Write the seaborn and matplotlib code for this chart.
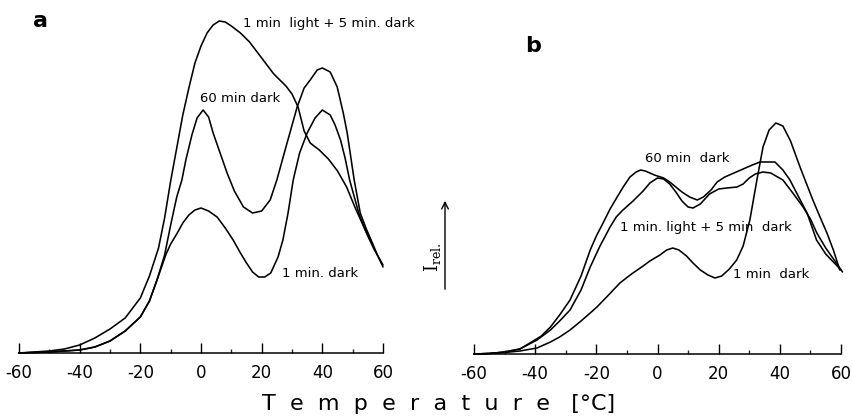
import matplotlib
matplotlib.use("Agg")
import matplotlib.pyplot as plt
import pandas as pd
import seaborn as sns

W, H = 852, 419

# panel a (relative intensity, arbitrary units)
a_light_t = [-60, -55, -50, -45, -40, -35, -30, -25, -20, -17, -14, -12, -10, -8, -6, -4, -2, 0, 2, 4, 6,
             8, 10, 13, 16, 20, 24, 28, 30, 32, 34, 36, 39, 42, 45, 48, 51, 54, 57, 60]
a_light_i = [0, 1, 2, 4, 8, 15, 24, 35, 55, 77, 105, 135, 172, 205, 238, 265, 290, 307, 320, 328, 332,
             331, 327, 320, 311, 295, 279, 267, 259, 246, 222, 210, 203, 194, 182, 166, 144, 124, 104, 88]

a_60_t = [-60, -55, -50, -45, -40, -35, -30, -25, -20, -17, -14.5, -12, -10, -8, -6.3, -5, -3, -1.3, 0.7,
          2.5, 4, 6.3, 8.6, 11, 14, 17, 20, 22.8, 25, 28, 31.7, 34, 36, 38.3, 40, 42.6, 44.9, 46.9, 48.2,
          50.5, 52.5, 54.5, 56.5, 58.3, 60]
a_60_i = [0, 0.5, 1, 2, 3, 6, 12, 22, 36, 52, 73, 98, 128, 156, 173, 193, 218, 235, 243,
          236, 220, 200, 180, 162, 146, 140, 142, 153, 173, 206, 246, 265, 273, 283, 285, 281, 266, 240, 220,
          173, 140, 124, 110, 97, 86]

a_1d_t = [-60, -55, -50, -45, -40, -35, -30, -25, -20, -17, -14.5, -13, -11.5, -10, -8, -6, -4, -2, 0, 2.5,
          5.3, 8, 10.6, 13, 15, 17, 19, 21, 23, 25.4, 27, 28.7, 30.4, 32.5, 35, 37.6, 40, 42.6, 44.2, 46,
          47.5, 49, 52, 54, 56]
a_1d_i = [0, 0.5, 1, 2, 3, 6, 12, 22, 36, 52, 73, 86, 99, 109, 119, 130, 138, 143, 145, 142,
          136, 125, 113, 100, 90, 81, 76, 76, 80, 96, 113, 140, 173, 200, 220, 235, 243, 238, 228, 213,
          195, 173, 140, 124, 111]

# panel b
b_60_t = [-60, -55, -50, -45, -41.7, -38, -35, -32, -28.6, -25, -22, -20, -17.8, -15.5, -13.2, -11, -9, -7,
          -5.5, -4, -2.5, -1, 0, 2, 4, 6, 8, 10.5, 13, 15, 17.5, 19.5, 22, 25, 28, 31, 33.5, 36, 38.4, 41,
          43.3, 46, 48.9, 52, 55, 57.5, 60]
b_60_i = [0, 0.5, 2, 5, 11, 18, 27, 39, 54, 78, 104, 118, 131, 145, 157, 168, 177, 182,
          184, 183, 181, 179, 178, 176, 172, 167, 162, 157, 154, 157, 164, 172, 177, 181, 185, 189, 192, 192, 192, 184,
          174, 158, 141, 114, 100, 92, 84]

b_light_t = [-60, -55, -50, -45, -39.4, -35, -32, -28.6, -25, -22, -18.8, -15.5, -13.5, -11.3, -8, -4.7, -2.5,
             0, 2, 4, 6, 8, 10, 11.6, 14, 17, 20, 22.7, 26, 28, 30, 32, 34.5, 37, 41, 44, 47.6, 50, 52.1,
             55, 58, 60.5]
b_light_i = [0, 0.5, 2, 5, 14, 24, 33, 44, 64, 87, 108, 127, 137, 144, 153, 163, 171,
             176, 175, 170, 162, 153, 147, 146, 150, 160, 165, 166, 167, 170, 176, 180, 182, 181, 174, 162, 147, 135, 121,
             106, 93, 82]

b_1d_t = [-60, -55, -50, -45, -39.4, -35, -32, -28.6, -25, -22, -19.8, -16, -12.3, -8.5, -4.7, -2.5, 0.8, 3,
          5, 7, 9.5, 11.6, 14, 16.5, 18.8, 21, 23.5, 25.9, 28, 30.2, 32.5, 34.5, 36.5, 38.7, 41, 43.5, 46.6,
          48.5, 50.8, 53, 55.4, 57.5, 59.6]
b_1d_i = [0, 0.5, 1.5, 3, 6, 12, 17, 24, 33, 41, 47, 59, 71, 80, 88, 93, 99, 104,
          106, 104, 98, 91, 84, 79, 76, 78, 85, 94, 108, 134, 174, 207, 224, 231, 228, 213, 187,
          172, 154, 138, 121, 104, 84]

ticks = [-60, -40, -20, 0, 20, 40, 60]
minor_ticks = [-50, -30, -10, 10, 30, 50]


def long_df(curves):
    parts = []
    for name, t, i in curves:
        parts.append(pd.DataFrame({"T": t, "I": i, "curve": name}))
    return pd.concat(parts, ignore_index=True)


df_a = long_df([("light", a_light_t, a_light_i), ("60", a_60_t, a_60_i), ("1d", a_1d_t, a_1d_i)])
df_b = long_df([("light", b_light_t, b_light_i), ("60", b_60_t, b_60_i), ("1d", b_1d_t, b_1d_i)])

sns.set_style("white")
plt.rcParams["font.family"] = ["DejaVu Sans"]
plt.rcParams["text.color"] = "black"

fig = plt.figure(figsize=(W / 100, H / 100), dpi=100)
ax_a = fig.add_axes([19 / W, 66 / H, 364 / W, 353 / H])
ax_b = fig.add_axes([474 / W, 65 / H, 367 / W, 354 / H])

for ax, df, top in [(ax_a, df_a, 353), (ax_b, df_b, 354)]:
    sns.lineplot(data=df, x="T", y="I", units="curve", estimator=None, color="black",
                 lw=1.15, ax=ax, clip_on=False, sort=False,
                 solid_joinstyle="round", solid_capstyle="round")
    ax.set_xlim(-60, 60)
    ax.set_ylim(0, top)
    ax.set_xticks(ticks)
    ax.set_xticks(minor_ticks, minor=True)
    ax.set_xticklabels([str(t) for t in ticks])
    ax.set_yticks([])
    ax.set_xlabel("")
    ax.set_ylabel("")
    for s in ["top", "left", "right"]:
        ax.spines[s].set_visible(False)
    ax.spines["bottom"].set_linewidth(1.1)
    ax.spines["bottom"].set_color("black")
    ax.tick_params(axis="x", which="major", direction="in", length=7, width=1, pad=8,
                   labelsize=12, colors="black", bottom=True)
    ax.tick_params(axis="x", which="minor", direction="in", length=3, width=1, bottom=True)
    ax.patch.set_alpha(0)

lbl = dict(fontsize=9.5, color="black", va="center", ha="left")
ax_a.text(13.9, 329, "1 min  light + 5 min. dark", clip_on=False, **lbl)
ax_a.text(-0.3, 255, "60 min dark", **lbl)
ax_a.text(26.7, 80, "1 min. dark", **lbl)
ax_b.text(-4.1, 196, "60 min  dark", **lbl)
ax_b.text(-12.3, 126, "1 min. light + 5 min  dark", **lbl)
ax_b.text(24.7, 79, "1 min  dark", **lbl)

fig.text(40 / W, 1 - 21 / H, "a", fontsize=16, fontweight="bold", ha="center", va="center")
fig.text(533 / W, 1 - 46 / H, "b", fontsize=16, fontweight="bold", ha="center", va="center")

fig.text(439 / W, 1 - 404 / H, "T  e  m  p  e  r  a  t  u  r  e   [°C]", fontsize=16,
         ha="center", va="center")

fig.patches.append(matplotlib.patches.FancyArrowPatch(
    (445 / W, 1 - 292 / H), (445 / W, 1 - 198 / H), transform=fig.transFigure,
    arrowstyle="->", mutation_scale=12, lw=1, color="black"))
fig.text(433 / W, 1 - 257 / H, r"$\mathrm{I}_{\mathrm{rel.}}$", fontsize=13, rotation=90,
         ha="center", va="center", math_fontfamily="dejavuserif")

fig.savefig("out.png", dpi=100, facecolor="white")
